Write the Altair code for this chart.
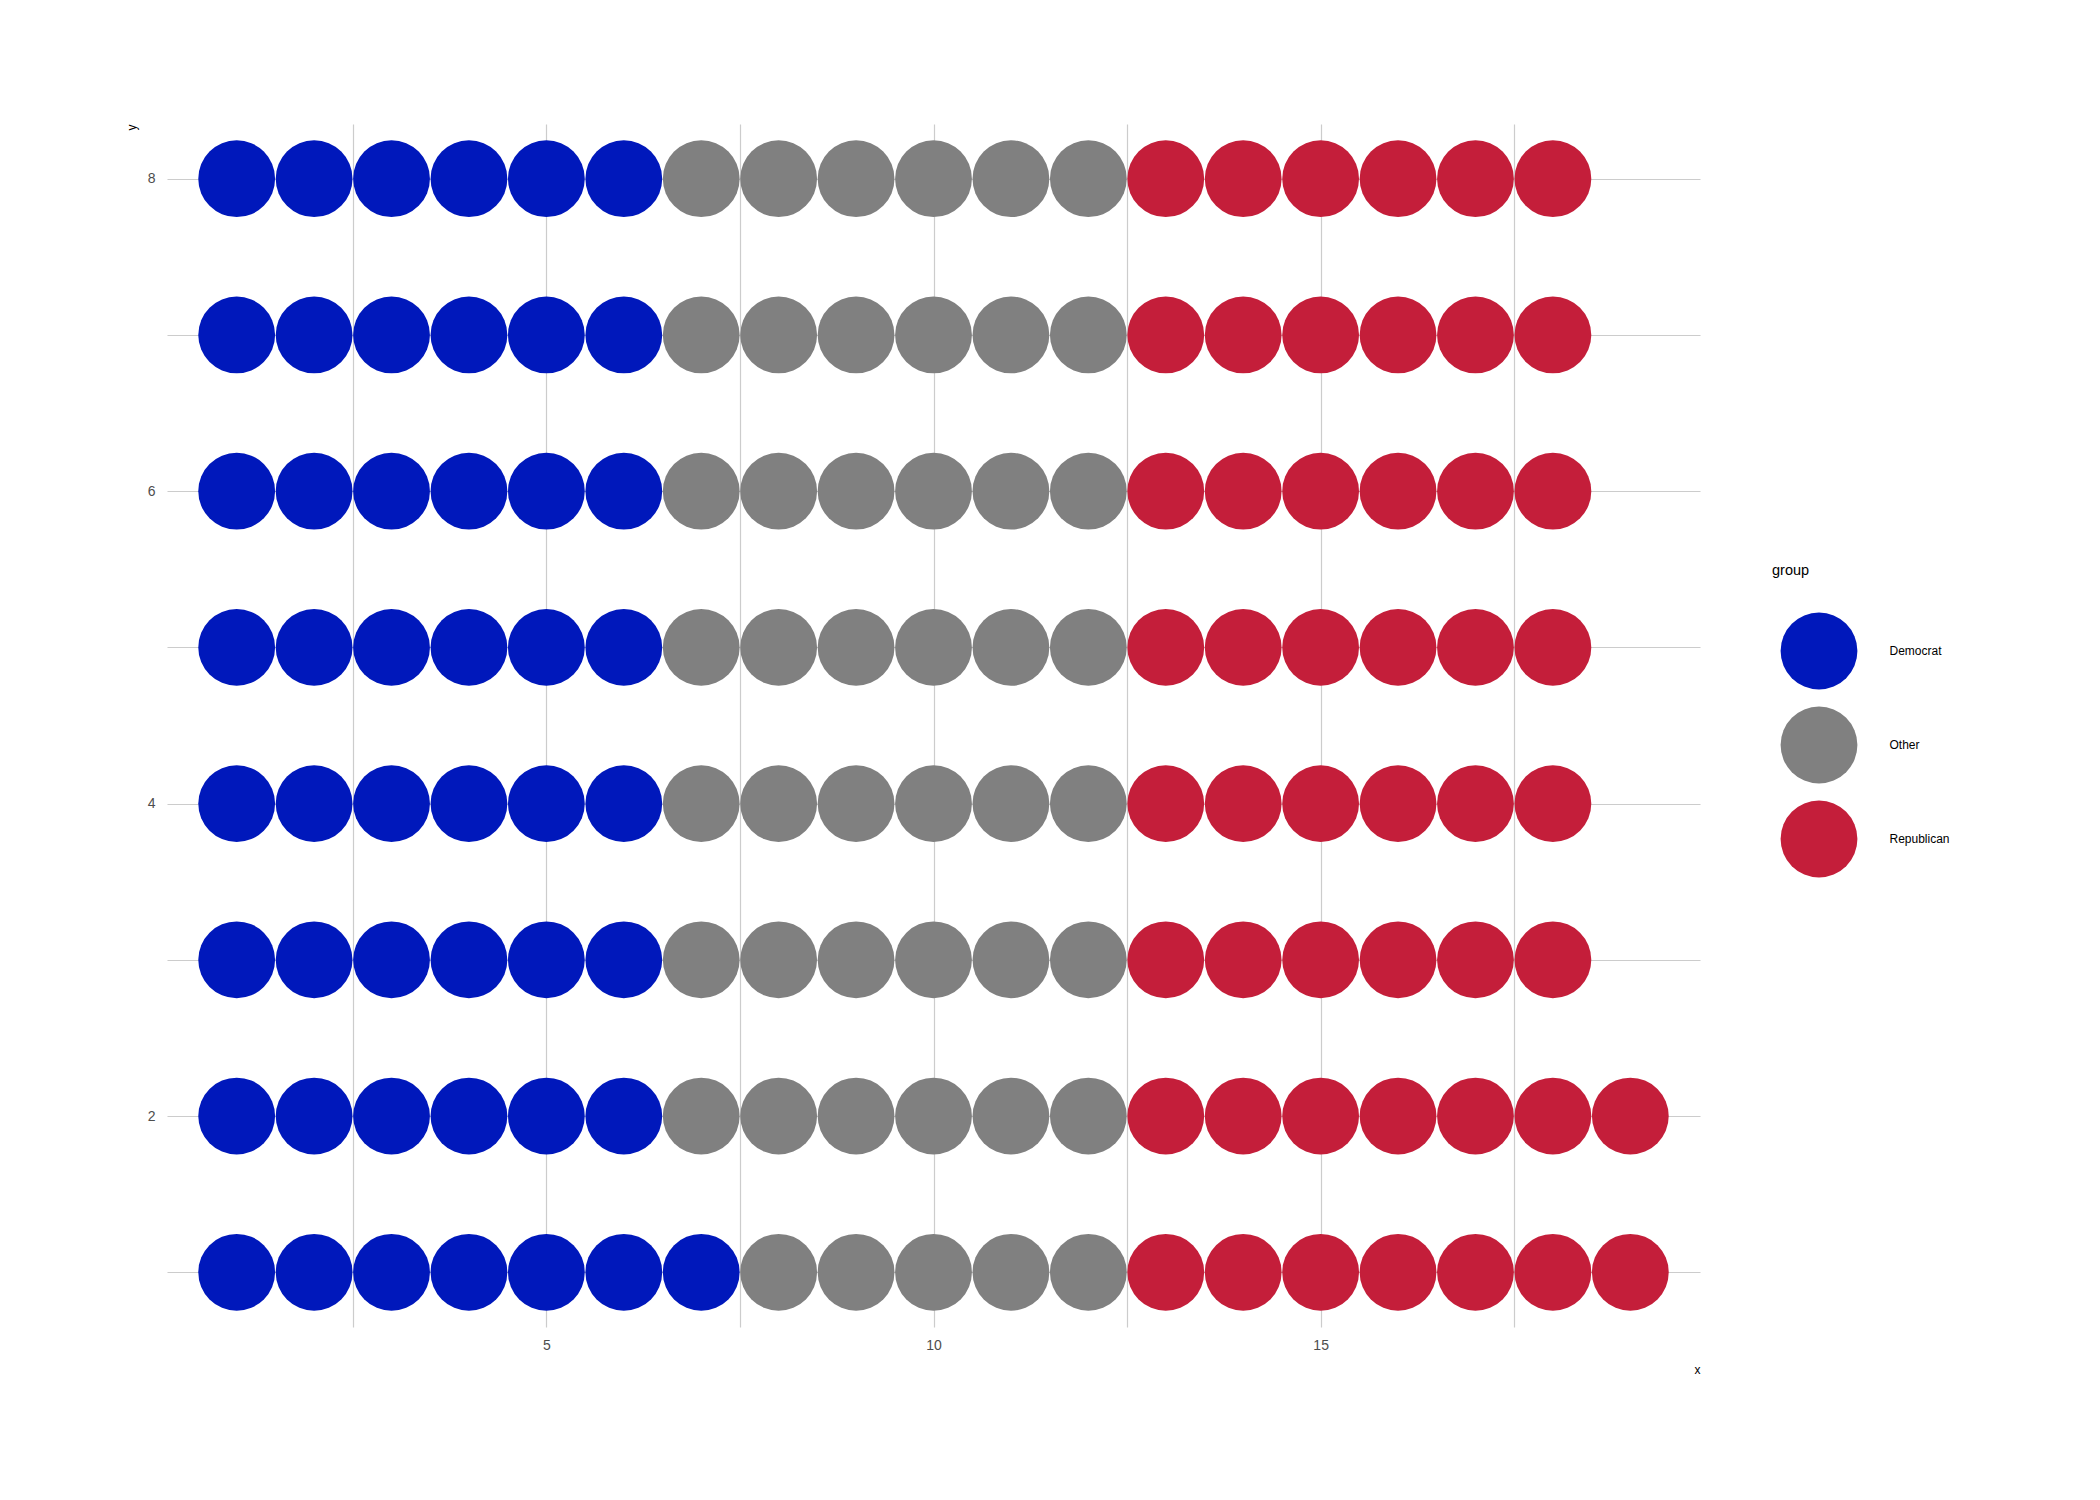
import altair as alt
import pandas as pd

# rows from top (y=8) to bottom (y=1): counts of Democrat, Other, Republican
rows_y = [8, 7, 6, 5, 4, 3, 2, 1]
dem_counts = [6, 6, 6, 6, 6, 6, 6, 7]
oth_counts = [6, 6, 6, 6, 6, 6, 6, 5]
rep_counts = [6, 6, 6, 6, 6, 6, 7, 7]
groups = ["Democrat", "Other", "Republican"]
colors = ["#0018BB", "#808080", "#C41E3A"]

recs = []
for y, d, o, r in zip(rows_y, dem_counts, oth_counts, rep_counts):
    x = 1
    for g, n in zip(groups, [d, o, r]):
        for _ in range(n):
            recs.append({"x": x, "y": y, "group": g})
            x += 1
df = pd.DataFrame(recs)

W, H = 1533, 1203
FONT = "Liberation Sans"
PT = 5900

chart = alt.Chart(df).mark_point(filled=True, shape="circle", size=PT, opacity=1, strokeWidth=0).encode(
    x=alt.X("x:Q", scale=alt.Scale(domain=[0.1, 19.9], nice=False, zero=False),
            axis=alt.Axis(values=[2.5, 5, 7.5, 10, 12.5, 15, 17.5],
                          labelExpr="datum.value % 5 == 0 ? datum.label : ''",
                          title="x", titleAnchor="end", titleAlign="right",
                          titleX=W, titleY=42, titleBaseline="middle",
                          labelPadding=11)),
    y=alt.Y("y:Q", scale=alt.Scale(domain=[0.65, 8.35], nice=False, zero=False),
            axis=alt.Axis(values=[1, 2, 3, 4, 5, 6, 7, 8],
                          labelExpr="datum.value % 2 == 0 ? datum.label : ''",
                          title="y", titleAngle=-90, titleX=-36, titleY=0,
                          titleAlign="right", titleBaseline="middle",
                          labelPadding=12)),
    color=alt.Color("group:N", scale=alt.Scale(domain=groups, range=colors),
                    legend=alt.Legend(orient="none", legendX=1605, legendY=440,
                                      symbolSize=PT, symbolType="circle",
                                      symbolStrokeWidth=0, symbolOpacity=1,
                                      symbolOffset=8.5, rowPadding=17,
                                      labelOffset=32, titlePadding=34,
                                      title="group")),
).properties(
    width=W, height=H,
    autosize=alt.AutoSizeParams(type="none"),
    padding={"left": 167, "top": 124, "right": 400, "bottom": 173},
).configure_view(stroke=None).configure_axis(
    domain=False, ticks=False, grid=True, gridColor="#cccccc", gridWidth=1.2,
    labelFont=FONT, labelFontSize=14, labelColor="#4d4d4d",
    titleFont=FONT, titleFontSize=12, titleColor="#000000", titleFontWeight="normal",
).configure_legend(
    labelFont=FONT, labelFontSize=12, labelColor="#000000",
    titleFont=FONT, titleFontSize=14.5, titleColor="#000000", titleFontWeight="normal",
)

chart.save("out.html", embed_options={"renderer": "svg", "actions": False})
